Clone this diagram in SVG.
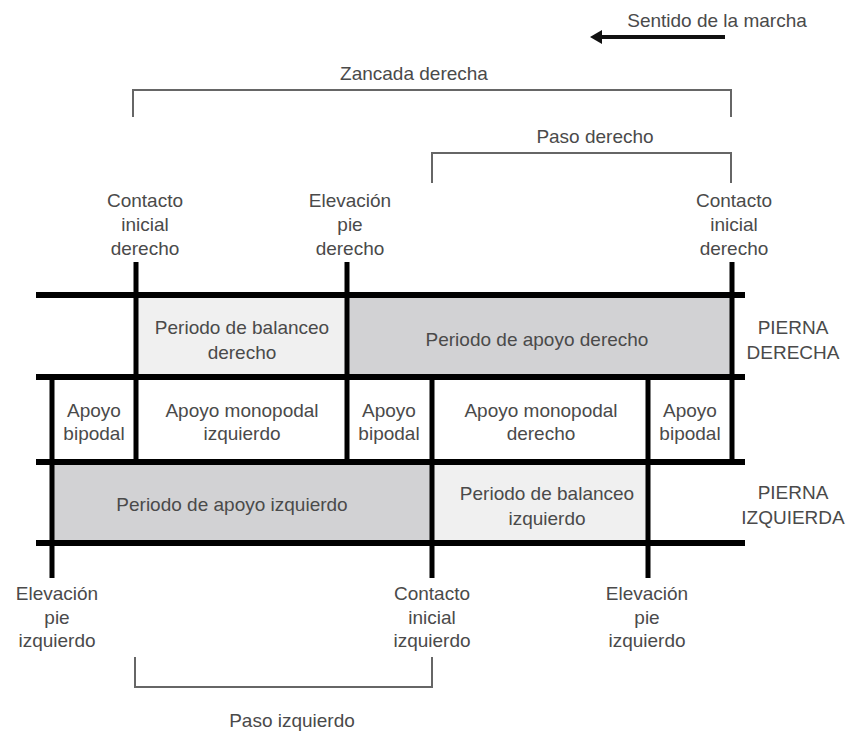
<svg xmlns="http://www.w3.org/2000/svg" width="850" height="734" viewBox="0 0 850 734">
<defs>
<style>
text{font-family:"Liberation Sans",Arial,sans-serif;font-size:19px;fill:#4a4a4a;text-anchor:middle}
.dark{fill:#d2d2d4}
.light{fill:#f0f0f0}
.hl{stroke:#000;stroke-width:6;fill:none}
.vl{stroke:#000;stroke-width:5;fill:none}
.br{stroke:#666;stroke-width:2;fill:none}
</style>
</defs>
<rect width="850" height="734" fill="#fff"/>

<g id="fills">
<rect class="light" x="136" y="295" width="211" height="82"/>
<rect class="dark" x="347" y="295" width="385" height="82"/>
<rect class="dark" x="52" y="462" width="380" height="81"/>
<rect class="light" x="432" y="462" width="216" height="81"/>
</g>

<g id="grid">
<line class="hl" x1="36" y1="295" x2="745" y2="295"/>
<line class="hl" x1="36" y1="377" x2="745" y2="377"/>
<line class="hl" x1="36" y1="462" x2="745" y2="462"/>
<line class="hl" x1="36" y1="543" x2="745" y2="543" stroke-width="7"/>
<line class="vl" x1="136" y1="262" x2="136" y2="462"/>
<line class="vl" x1="347" y1="262" x2="347" y2="462"/>
<line class="vl" x1="732" y1="262" x2="732" y2="462"/>
<line class="vl" x1="52" y1="377" x2="52" y2="578"/>
<line class="vl" x1="432" y1="377" x2="432" y2="578"/>
<line class="vl" x1="648" y1="377" x2="648" y2="578"/>
</g>

<g id="connectors">
<path class="br" d="M133,117 V90 H731 V117"/>
<path class="br" d="M432,183 V153 H731 V183"/>
<path class="br" d="M135,657 V687 H432 V657"/>
<line x1="725" y1="37" x2="598" y2="37" stroke="#111" stroke-width="4"/>
<polygon points="590,37 602,30 602,44" fill="#111"/>
</g>

<g id="sentido"><text x="717" y="27">Sentido de la marcha</text></g>
<g id="zancada-derecha"><text x="414" y="80">Zancada derecha</text></g>
<g id="paso-derecho"><text x="595" y="143">Paso derecho</text></g>
<g id="paso-izquierdo"><text x="292" y="727">Paso izquierdo</text></g>

<g id="contacto-derecho-1"><text x="145" y="207">Contacto</text><text x="145" y="231">inicial</text><text x="145" y="255">derecho</text></g>
<g id="elevacion-derecho"><text x="350" y="207">Elevación</text><text x="350" y="231">pie</text><text x="350" y="255">derecho</text></g>
<g id="contacto-derecho-2"><text x="734" y="207">Contacto</text><text x="734" y="231">inicial</text><text x="734" y="255">derecho</text></g>

<g id="balanceo-derecho"><text x="242" y="334">Periodo de balanceo</text><text x="242" y="359">derecho</text></g>
<g id="apoyo-derecho"><text x="537" y="346">Periodo de apoyo derecho</text></g>
<g id="pierna-derecha"><text x="793" y="334">PIERNA</text><text x="793" y="359">DERECHA</text></g>

<g id="bipodal-1"><text x="94" y="417">Apoyo</text><text x="94" y="440">bipodal</text></g>
<g id="monopodal-izquierdo"><text x="242" y="417">Apoyo monopodal</text><text x="242" y="440">izquierdo</text></g>
<g id="bipodal-2"><text x="389" y="417">Apoyo</text><text x="389" y="440">bipodal</text></g>
<g id="monopodal-derecho"><text x="541" y="417">Apoyo monopodal</text><text x="541" y="440">derecho</text></g>
<g id="bipodal-3"><text x="690" y="417">Apoyo</text><text x="690" y="440">bipodal</text></g>

<g id="apoyo-izquierdo"><text x="232" y="511">Periodo de apoyo izquierdo</text></g>
<g id="balanceo-izquierdo"><text x="547" y="500">Periodo de balanceo</text><text x="547" y="525">izquierdo</text></g>
<g id="pierna-izquierda"><text x="793" y="499">PIERNA</text><text x="793" y="524">IZQUIERDA</text></g>

<g id="elevacion-izquierdo-1"><text x="57" y="600">Elevación</text><text x="57" y="624">pie</text><text x="57" y="647">izquierdo</text></g>
<g id="contacto-izquierdo"><text x="432" y="600">Contacto</text><text x="432" y="624">inicial</text><text x="432" y="647">izquierdo</text></g>
<g id="elevacion-izquierdo-2"><text x="647" y="600">Elevación</text><text x="647" y="624">pie</text><text x="647" y="647">izquierdo</text></g>
</svg>
